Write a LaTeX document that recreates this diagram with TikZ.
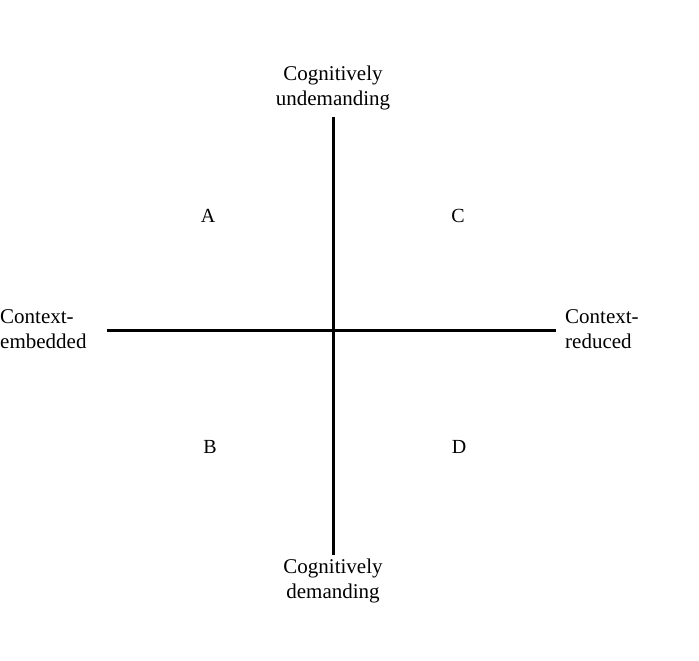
\documentclass[tikz,border=0pt]{standalone}
\usepackage{fontspec}
\setmainfont{Liberation Serif}
\begin{document}
\begin{tikzpicture}[x=1pt,y=-1pt,
  axis/.style={line width=3pt,black},
  lbl/.style={font=\fontsize{21}{25}\selectfont,align=center,inner sep=0pt},
  side/.style={font=\fontsize{21}{25}\selectfont,align=left,inner sep=0pt},
  quad/.style={font=\fontsize{20}{24}\selectfont,inner sep=0pt}]
\useasboundingbox[fill=white] (0,0) rectangle (699,661);
\node[lbl] (top) at (333,88) {Cognitively\\undemanding};
\node[lbl] (bottom) at (333,581) {Cognitively\\demanding};
\node[side,anchor=west] (left) at (0,329) {Context-\\embedded};
\node[side,anchor=west] (right) at (565,329) {Context-\\reduced};
\coordinate (vtop) at (333,117);
\coordinate (vbot) at (333,555);
\coordinate (hleft) at (107,330);
\coordinate (hright) at (556,330);
\draw[axis] (vtop) -- (vbot);
\draw[axis] (hleft) -- (hright);
\node[quad] (A) at (208,216) {A};
\node[quad] (C) at (458,216) {C};
\node[quad] (B) at (210,447) {B};
\node[quad] (D) at (459,447) {D};
\end{tikzpicture}
\end{document}
